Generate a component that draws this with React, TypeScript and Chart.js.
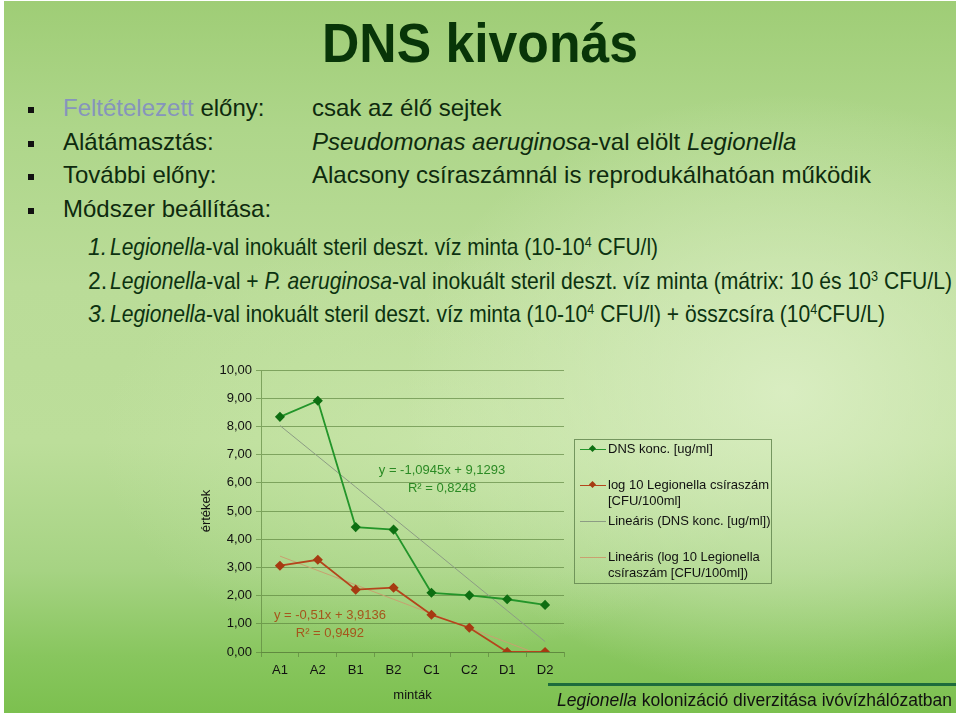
import React, { useEffect, useRef, useLayoutEffect } from 'react';
import { Chart, registerables } from 'chart.js';

Chart.register(...registerables);

// ---------- data ----------
const CATEGORIES = ['A1', 'A2', 'B1', 'B2', 'C1', 'C2', 'D1', 'D2'];
const DNS_KONC = [8.34, 8.91, 4.43, 4.34, 2.1, 2.01, 1.87, 1.67];
const LOG10_LEGIONELLA = [3.06, 3.27, 2.21, 2.28, 1.32, 0.86, 0, 0];
const TREND_DNS = [8.03, 6.94, 5.85, 4.75, 3.66, 2.56, 1.47, 0.37];
const TREND_LOG10 = [3.4, 2.89, 2.38, 1.87, 1.36, 0.85, 0.34, -0.17];
const SERIES_LABELS = [
  'DNS konc. [ug/ml]',
  'log 10 Legionella csíraszám [CFU/100ml]',
  'Lineáris (DNS konc. [ug/ml])',
  'Lineáris (log 10 Legionella csíraszám [CFU/100ml])',
];
const EQ_DNS = ['y = -1,0945x + 9,1293', 'R² = 0,8248'];
const EQ_LOG10 = ['y = -0,51x + 3,9136', 'R² = 0,9492'];
const Y_TITLE = 'értékek';
const X_TITLE = 'minták';

// ---------- styles ----------
const FONT = '"Liberation Sans", Arial, Helvetica, sans-serif';
const CH_FONT = 13;
const GREEN_LINE = '#23952a';
const GREEN_PT = '#0e6f12';
const RED_LINE = '#b4451c';
const RED_PT = '#a63b12';
const TREND_G = '#8c9c84';
const TREND_R = '#c9a070';
const GRID = 'rgba(90,130,60,0.65)';
const EQ_G_COLOR = '#2b8a24';
const EQ_R_COLOR = '#a5561c';
const TEXT_DARK = '#0e2a0e';

const COLORS = [
  { line: GREEN_LINE, pt: GREEN_PT, marker: true },
  { line: RED_LINE, pt: RED_PT, marker: true },
  { line: TREND_G, pt: TREND_G, marker: false },
  { line: TREND_R, pt: TREND_R, marker: false },
];

const eqPlugin = {
  id: 'equations',
  afterDatasetsDraw(chart: any) {
    const { ctx, scales } = chart;
    const x = scales.x;
    const y = scales.y;
    ctx.save();
    ctx.font = `${CH_FONT}px ${FONT}`;
    ctx.textAlign = 'center';
    ctx.textBaseline = 'middle';
    ctx.fillStyle = EQ_G_COLOR;
    ctx.fillText(EQ_DNS[0], x.getPixelForValue(4.28), y.getPixelForValue(6.45));
    ctx.fillText(EQ_DNS[1], x.getPixelForValue(4.28), y.getPixelForValue(5.8));
    ctx.fillStyle = EQ_R_COLOR;
    ctx.fillText(EQ_LOG10[0], x.getPixelForValue(1.32), y.getPixelForValue(1.31));
    ctx.fillText(EQ_LOG10[1], x.getPixelForValue(1.32), y.getPixelForValue(0.67));
    ctx.restore();
  },
};

function ChartBox() {
  const ref = useRef<HTMLCanvasElement>(null);
  useEffect(() => {
    if (!ref.current) return;
    const series = [DNS_KONC, LOG10_LEGIONELLA, TREND_DNS, TREND_LOG10];
    const chart = new Chart(ref.current, {
      type: 'line',
      data: {
        labels: CATEGORIES,
        datasets: series.map((d, i) => ({
          label: SERIES_LABELS[i],
          data: d,
          borderColor: COLORS[i].line,
          backgroundColor: COLORS[i].pt,
          pointBackgroundColor: COLORS[i].pt,
          pointBorderColor: COLORS[i].pt,
          pointStyle: 'rectRot',
          pointRadius: COLORS[i].marker ? 3.8 : 0,
          borderWidth: COLORS[i].marker ? 1.8 : 1,
          tension: 0,
          fill: false,
          order: COLORS[i].marker ? 1 : 2,
        })),
      },
      options: {
        animation: false,
        responsive: false,
        layout: { padding: { top: 15, right: 11, left: 0, bottom: 0 } },
        plugins: { legend: { display: false }, tooltip: { enabled: false } },
        scales: {
          x: {
            offset: true,
            grid: {
              display: true,
              drawOnChartArea: false,
              drawTicks: true,
              tickLength: 5,
              offset: true,
              color: GRID,
            },
            border: { display: true, color: GRID },
            ticks: {
              color: '#111',
              font: { family: FONT, size: CH_FONT },
              padding: 6,
              maxRotation: 0,
              autoSkip: false,
            },
            title: {
              display: true,
              text: X_TITLE,
              color: '#111',
              font: { family: FONT, size: CH_FONT },
              padding: { top: 0, bottom: 7 },
            },
            afterFit: (s: any) => {
              s.height = 58;
            },
          },
          y: {
            min: 0,
            max: 10,
            ticks: {
              stepSize: 1,
              color: '#111',
              font: { family: FONT, size: CH_FONT },
              padding: 4,
              callback: (v: any) => Number(v).toFixed(2).replace('.', ','),
            },
            grid: { color: GRID, tickLength: 5 },
            border: { display: true, color: GRID },
            title: {
              display: true,
              text: Y_TITLE,
              color: '#111',
              font: { family: FONT, size: CH_FONT },
              padding: { top: 19, bottom: 0 },
            },
            afterFit: (s: any) => {
              s.width = 81;
            },
          },
        },
      },
      plugins: [eqPlugin],
    } as any);
    return () => chart.destroy();
  }, []);
  return (
    <canvas
      ref={ref}
      width={395}
      height={355}
      style={{ position: 'absolute', left: 180, top: 355, width: 395, height: 355 }}
    />
  );
}

function Legend() {
  return (
    <div
      style={{
        position: 'absolute',
        left: 574,
        top: 439,
        width: 196,
        height: 143,
        border: '1px solid rgba(100,135,80,0.85)',
        fontFamily: FONT,
        fontSize: 13,
        color: '#111',
      }}
    >
      {SERIES_LABELS.map((lab, i) => (
        <div
          key={i}
          style={{ position: 'absolute', left: 0, top: 0.5 + i * 36.3, width: 196, height: 34 }}
        >
          <div
            style={{
              position: 'absolute',
              left: 5,
              top: 8,
              width: 26,
              height: COLORS[i].marker ? 1.5 : 1,
              background: COLORS[i].line,
            }}
          />
          {COLORS[i].marker && (
            <div
              style={{
                position: 'absolute',
                left: 15,
                top: 5.5,
                width: 5,
                height: 5,
                background: COLORS[i].pt,
                transform: 'rotate(45deg)',
              }}
            />
          )}
          <div
            style={{
              position: 'absolute',
              left: 33,
              top: 0,
              width: 165,
              lineHeight: '16px',
            }}
          >
            {lab}
          </div>
        </div>
      ))}
    </div>
  );
}

function Line(props: {
  left: number;
  cy: number;
  size: number;
  width?: number;
  color?: string;
  bold?: boolean;
  children: React.ReactNode;
}) {
  const ref = useRef<HTMLDivElement>(null);
  useLayoutEffect(() => {
    const el = ref.current;
    if (!el) return;
    el.style.transform = 'translateY(-50%)';
    const w = el.getBoundingClientRect().width;
    if (props.width && w > 0) el.style.transform = `translateY(-50%) scaleX(${props.width / w})`;
  }, [props.width]);
  return (
    <div
      ref={ref}
      style={{
        position: 'absolute',
        left: props.left,
        top: props.cy,
        fontFamily: FONT,
        fontSize: props.size,
        lineHeight: 1,
        whiteSpace: 'nowrap',
        color: props.color || TEXT_DARK,
        fontWeight: props.bold ? 'bold' : 'normal',
        transformOrigin: '0 50%',
        transform: 'translateY(-50%)',
      }}
    >
      {props.children}
    </div>
  );
}

const Sup = ({ children }: { children: React.ReactNode }) => (
  <span style={{ fontSize: '0.6em', position: 'relative', top: '-0.55em' }}>{children}</span>
);

function Bullet({ cy }: { cy: number }) {
  return (
    <div style={{ position: 'absolute', left: 28, top: cy - 3, width: 6, height: 6, background: '#111' }} />
  );
}

export default function App() {
  const rows = [108, 141.5, 175, 208.5];
  const num = [247, 280.5, 314];
  const NUM_COLOR = '#0c3210';
  return (
    <div style={{ position: 'fixed', left: 0, top: 0, width: 960, height: 716, background: '#ffffff', overflow: 'hidden' }}>
      <div
        style={{
          position: 'absolute',
          left: 4,
          top: 1,
          width: 952,
          height: 712,
          background:
            'radial-gradient(ellipse 40% 42% at 82% 55%, rgba(222,240,200,0.85), rgba(222,240,200,0) 100%),' +
            'radial-gradient(ellipse 35% 30% at 45% 62%, rgba(205,232,175,0.6), rgba(205,232,175,0) 100%),' +
            'linear-gradient(180deg, #9fcd76 0%, #aed68a 18%, #badc98 40%, #bcde9a 62%, #a6d383 80%, #88c65e 92%, #7cc04f 100%)',
        }}
      />
      {/* Title */}
      <Line left={322} cy={43} size={55} width={316} bold color="#083508">
        DNS kivonás
      </Line>

      {/* Bullets */}
      {rows.map((r, i) => (
        <Bullet key={i} cy={r + 2} />
      ))}
      <Line left={63} cy={rows[0]} size={24}>
        <span style={{ color: '#8694bd' }}>Feltételezett</span> előny:
      </Line>
      <Line left={312} cy={rows[0]} size={24}>
        csak az élő sejtek
      </Line>
      <Line left={63} cy={rows[1]} size={24}>
        Alátámasztás:
      </Line>
      <Line left={312} cy={rows[1]} size={24}>
        <i>Pseudomonas aeruginosa</i>-val elölt <i>Legionella</i>
      </Line>
      <Line left={63} cy={rows[2]} size={24}>
        További előny:
      </Line>
      <Line left={312} cy={rows[2]} size={24}>
        Alacsony csíraszámnál is reprodukálhatóan működik
      </Line>
      <Line left={63} cy={rows[3]} size={24}>
        Módszer beállítása:
      </Line>

      {/* Numbered list */}
      <Line left={88} cy={num[0]} size={23} color={NUM_COLOR}>
        <i>1.</i>
      </Line>
      <Line left={110} cy={num[0]} size={24} width={548} color={NUM_COLOR}>
        <i>Legionella</i>-val inokuált steril deszt. víz minta (10-10<Sup>4</Sup> CFU/l)
      </Line>
      <Line left={88} cy={num[1]} size={23} color={NUM_COLOR}>
        2.
      </Line>
      <Line left={110} cy={num[1]} size={24} width={842} color={NUM_COLOR}>
        <i>Legionella</i>-val + <i>P. aeruginosa</i>-val inokuált steril deszt. víz minta (mátrix: 10 és 10
        <Sup>3</Sup> CFU/L)
      </Line>
      <Line left={88} cy={num[2]} size={23} color={NUM_COLOR}>
        <i>3.</i>
      </Line>
      <Line left={110} cy={num[2]} size={24} width={775} color={NUM_COLOR}>
        <i>Legionella</i>-val inokuált steril deszt. víz minta (10-10<Sup>4</Sup> CFU/l) + összcsíra (10
        <Sup>4</Sup>CFU/L)
      </Line>

      <ChartBox />
      <Legend />

      {/* Footer */}
      <div style={{ position: 'absolute', left: 548, top: 683, width: 408, height: 3, background: '#1d6b3c' }} />
      <Line left={557} cy={701} size={17.5} width={395} color="#111">
        <i>Legionella</i> kolonizáció diverzitása ivóvízhálózatban
      </Line>
    </div>
  );
}
